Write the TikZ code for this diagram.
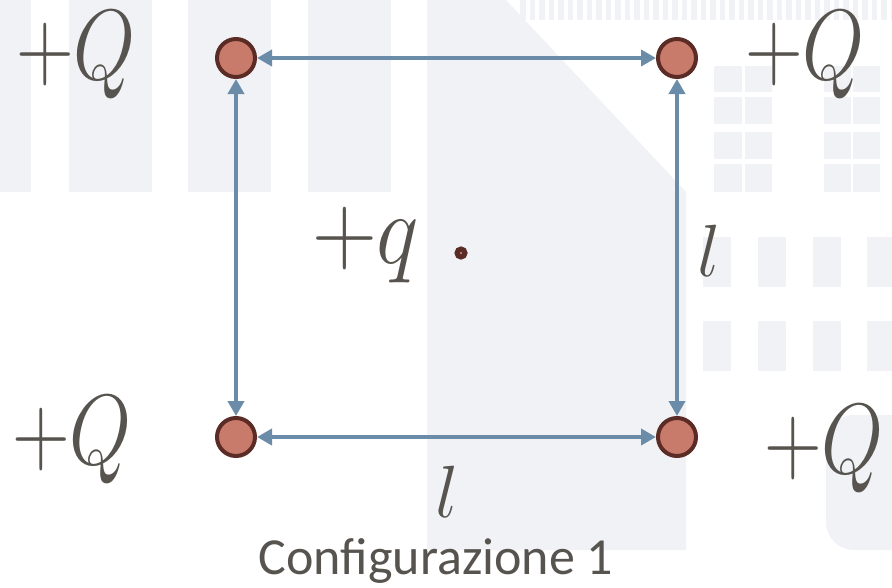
\RequirePackage{fix-cm}
\documentclass[tikz,border=0pt]{standalone}
\usepackage{fontspec}
\newfontfamily\capfont{Carlito}
\usetikzlibrary{arrows.meta}
\definecolor{txt}{HTML}{57534E}
\definecolor{bgg}{HTML}{F1F2F6}
\definecolor{chargefill}{HTML}{C97B6B}
\definecolor{chargeline}{HTML}{5B2C26}
\definecolor{arr}{HTML}{6B8CA8}
\tikzset{
  charge/.style={circle, draw=chargeline, fill=chargefill, line width=4pt, minimum size=38pt, inner sep=0pt},
  probe/.style={circle, draw=chargeline, fill=chargefill, line width=5pt, minimum size=8pt, inner sep=0pt},
  side/.style={arr, line width=4pt, {Triangle[length=15pt,width=16pt]}-{Triangle[length=15pt,width=16pt]}},
  bigQ/.style={txt, inner sep=0pt, anchor=base west, font=\fontsize{100}{100}\selectfont},
  lenlab/.style={txt, inner sep=0pt, anchor=base, font=\fontsize{74}{74}\selectfont},
  caption/.style={txt, inner sep=0pt, anchor=base, font=\capfont\fontsize{52}{52}\selectfont}
}
\begin{document}
\begin{tikzpicture}[x=1pt,y=-1pt]
\useasboundingbox (0,0) rectangle (892,587);
\clip (0,0) rectangle (892,587);
% background watermark
\fill[white] (0,0) rectangle (892,587);
\foreach \a/\b in {0/31,69/152,188/271,308/391}
  \fill[bgg] (\a,0) rectangle (\b,192);
\fill[bgg] (427,0) -- (506,0) -- (686,192) -- (686,550) -- (427,550) -- cycle;
\foreach \i in {0,...,39}
  \fill[bgg] ({520+9.5*\i},0) rectangle ({525.5+9.5*\i},20);
\foreach \a/\b in {714/742,745/772,824/851,853/880}
  \foreach \c/\d in {66/92,97/124,132/159,164/192}
    \fill[bgg] (\a,\c) rectangle (\b,\d);
\foreach \a/\b in {703/731,758/786,813/841,867/895}
  \foreach \c/\d in {237/287,321/371}
    \fill[bgg] (\a,\c) rectangle (\b,\d);
\fill[bgg, rounded corners=28pt] (826,415) rectangle (930,550);
% charges
\node[charge] (tl) at (236,58) {};
\node[charge] (tr) at (677,58) {};
\node[charge] (bl) at (236,437) {};
\node[charge] (br) at (677,437) {};
\node[probe] (p) at (461,253) {};
% sides
\draw[side] (tl) -- (tr);
\draw[side] (bl) -- (br);
\draw[side] (tl) -- (bl);
\draw[side] (tr) -- (br);
% labels
\node[bigQ] (qtl) at (16,79) {\scalebox{0.8}[1]{$+Q$}};
\node[bigQ] (qtr) at (745,79) {\scalebox{0.8}[1]{$+Q$}};
\node[bigQ] (qbl) at (12,464) {\scalebox{0.8}[1]{$+Q$}};
\node[bigQ] (qbr) at (764,473) {\scalebox{0.8}[1]{$+Q$}};
\node[bigQ] (qq) at (312,263) {\scalebox{0.9}[1]{$+q$}};
\node[lenlab] (lr) at (709,276) {$l$};
\node[lenlab] (lb) at (447,517) {$l$};
\node[caption] (cap) at (436,574) {Configurazione 1};
\end{tikzpicture}
\end{document}
